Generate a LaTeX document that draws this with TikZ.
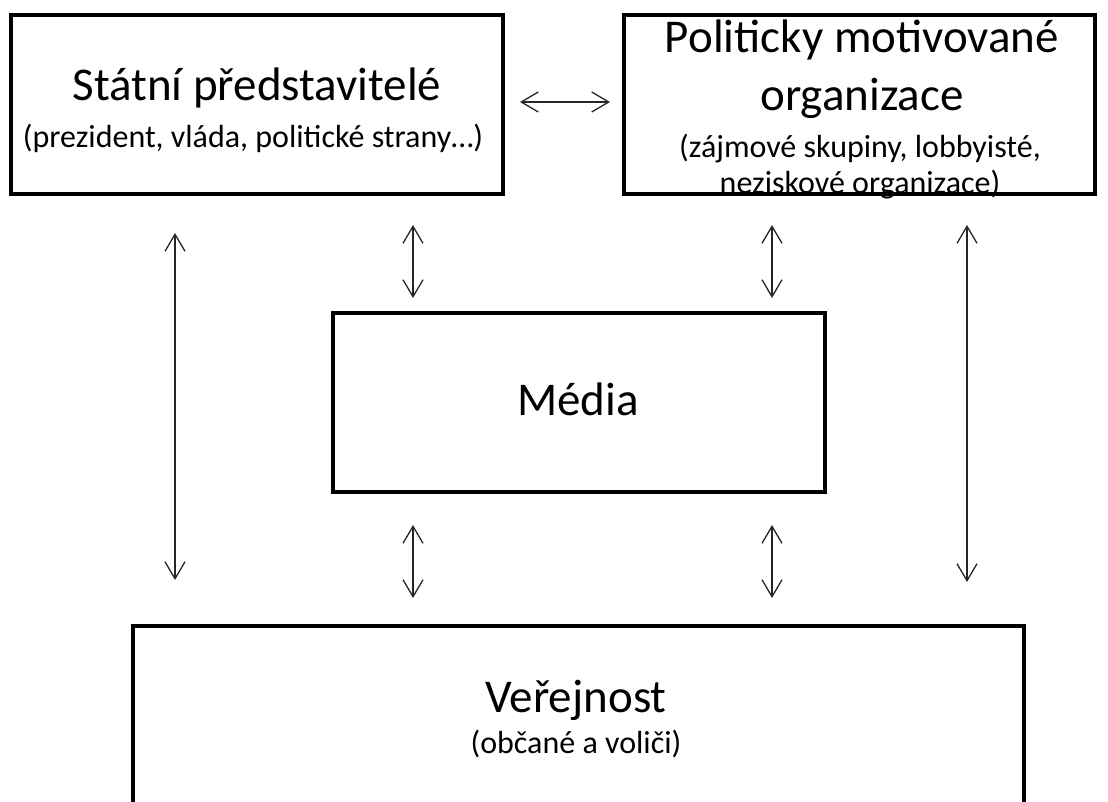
\documentclass[tikz,border=0pt]{standalone}
\usepackage{fontspec}
\setmainfont{Carlito}
\usetikzlibrary{arrows.meta}

\begin{document}
\begin{tikzpicture}[
    x=1pt, y=-1pt,
    box/.style={draw, line width=4pt, inner sep=0pt},
    head/.style={anchor=base, inner sep=0pt, font=\fontsize{47}{56}\selectfont},
    sub/.style={anchor=base, inner sep=0pt, font=\fontsize{32}{38}\selectfont},
    link/.style={{Straight Barb[length=17pt,width=20pt]}-{Straight Barb[length=17pt,width=20pt]}, line width=1.3pt, black!85}
]
\useasboundingbox (0,0) rectangle (1108,801);
\clip (0,0) rectangle (1108,801);
% boxes
\node[box, minimum width=492pt, minimum height=179pt] (state) at (257,104.5) {};
\node[box, minimum width=471pt, minimum height=179pt] (org) at (859.5,104.5) {};
\node[box, minimum width=492pt, minimum height=179pt] (media) at (579,402.5) {};
\node[box, minimum width=891pt, minimum height=189pt] (public) at (578.5,720.5) {};
% texts
\node[head] (stateT) at (257,100) {Státní představitelé};
\node[sub] (stateS) at (253,147) {(prezident, vláda, politické strany…)};
\node[head] (orgT1) at (862,52) {Politicky motivované};
\node[head] (orgT2) at (862,110) {organizace};
\node[sub] (orgS1) at (860,157) {(zájmové skupiny, lobbyisté,};
\node[sub] (orgS2) at (860,193) {neziskové organizace)};
\node[head] (mediaT) at (578,415) {Média};
\node[head] (publicT) at (576,712) {Veřejnost};
\node[sub] (publicS) at (576,753) {(občané a voliči)};
% arrow columns
\coordinate (mid) at (0,102);
\coordinate (c1) at (175,0);
\coordinate (c2) at (413,0);
\coordinate (c3) at (772,0);
\coordinate (c4) at (967,0);
\draw[link, shorten <=15pt, shorten >=12pt] (state.east |- mid) -- (org.west |- mid);
\draw[link, shorten <=37pt, shorten >=44pt] (state.south -| c1) -- (public.north -| c1);
\draw[link, shorten <=29pt, shorten >=13pt] (state.south -| c2) -- (media.north -| c2);
\draw[link, shorten <=29pt, shorten >=13pt] (org.south -| c3) -- (media.north -| c3);
\draw[link, shorten <=31pt, shorten >=26pt] (media.south -| c2) -- (public.north -| c2);
\draw[link, shorten <=31pt, shorten >=26pt] (media.south -| c3) -- (public.north -| c3);
\draw[link, shorten <=29pt, shorten >=42pt] (org.south -| c4) -- (public.north -| c4);
\end{tikzpicture}
\end{document}
